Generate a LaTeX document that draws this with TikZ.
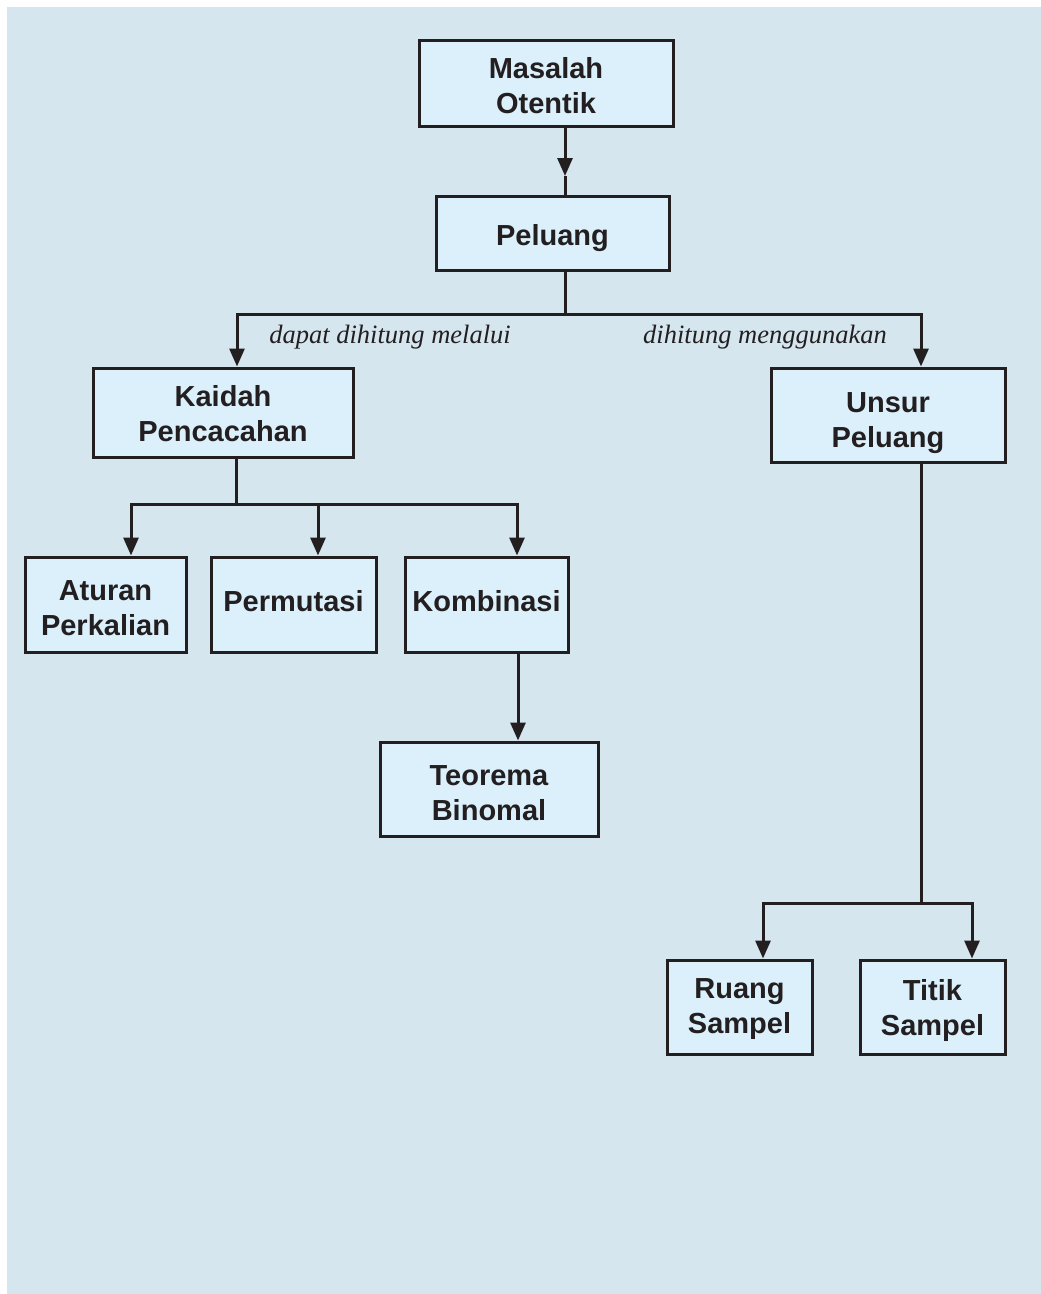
\documentclass[tikz,border=0pt]{standalone}
\usepackage{fontspec}
\setmainfont{Liberation Sans}
\newfontfamily\labfont{Liberation Serif}
\usetikzlibrary{arrows.meta}
\definecolor{bgc}{HTML}{D5E6EF}
\definecolor{boxc}{HTML}{DBF0FB}
\definecolor{linec}{HTML}{231F20}
\newcommand{\bxt}[2]{\raisebox{#1}[\height][\depth]{\begin{tabular}{@{}c@{}}#2\end{tabular}}}
\tikzset{
  box/.style={draw=linec, fill=boxc, line width=3pt, align=center, inner sep=0pt,
    text=linec, font=\fontsize{29}{35}\selectfont\bfseries},
  conn/.style={draw=linec, line width=3pt},
  arr/.style={conn, -{Triangle[width=15pt,length=18pt]}},
  lab/.style={text=linec, font=\labfont\itshape\fontsize{26.5}{30}\selectfont, inner sep=0pt}
}
\begin{document}
\begin{tikzpicture}[x=1pt,y=-1pt]
\useasboundingbox (0,0) rectangle (1041,1294);
\fill[white] (0,0) rectangle (1041,1294);
\fill[bgc] (7,7) rectangle (1041,1294);

\node[box, minimum width=254pt, minimum height=86pt] (ma) at (546,83) {\bxt{-6pt}{Masalah\\Otentik}};
\node[box, minimum width=233pt, minimum height=74pt] (pe) at (552.5,233) {\bxt{-5pt}{Peluang}};
\node[box, minimum width=260pt, minimum height=89pt] (ka) at (223,412.5) {\bxt{-4.5pt}{Kaidah\\Pencacahan}};
\node[box, minimum width=234pt, minimum height=94pt] (un) at (888,415) {\bxt{-7.5pt}{Unsur\\Peluang}};
\node[box, minimum width=161pt, minimum height=95pt] (at) at (105.5,604.5) {\bxt{-6pt}{Aturan\\Perkalian}};
\node[box, minimum width=165pt, minimum height=95pt] (pm) at (293.5,604.5) {\bxt{0pt}{Permutasi}};
\node[box, minimum width=163pt, minimum height=95pt] (ko) at (486.5,604.5) {\bxt{0pt}{Kombinasi}};
\node[box, minimum width=218pt, minimum height=94pt] (te) at (489,789) {\bxt{-6.5pt}{Teorema\\Binomal}};
\node[box, minimum width=145pt, minimum height=94pt] (ru) at (739.5,1007) {\bxt{-1.5pt}{Ruang\\Sampel}};
\node[box, minimum width=145pt, minimum height=94pt] (ti) at (932.5,1007) {\bxt{-4pt}{Titik\\Sampel}};

\node[lab] (l1) at (390,337) {dapat dihitung melalui};
\node[lab] (l2) at (765,337) {dihitung menggunakan};

% x positions
\coordinate (x1) at (565,0);
\coordinate (xk) at (237,0);
\coordinate (xu) at (921,0);
\coordinate (xa) at (131,0);
\coordinate (xp) at (318,0);
\coordinate (xo) at (517,0);
\coordinate (xt) at (518,0);
\coordinate (xr) at (763,0);
\coordinate (xi) at (972,0);
\coordinate (xkd) at (236,0);

% Masalah -> Peluang
\coordinate (m1) at (565,176);
\draw[arr] (ma.south -| x1) -- (m1);
\draw[conn] (m1) -- (pe.north -| x1);

% Peluang -> Kaidah, Unsur
\coordinate (j1) at (565,314);
\draw[conn] (pe.south -| x1) -- (j1);
\draw[arr] (j1) -| (ka.north -| xk);
\draw[arr] (j1) -| (un.north -| xu);

% Kaidah -> three
\coordinate (j2) at (236,504);
\draw[conn] (ka.south -| xkd) -- (j2);
\draw[arr] (j2) -| (at.north -| xa);
\draw[arr] (j2) -| (ko.north -| xo);
\coordinate (j2p) at (318,504);
\draw[arr] (j2p) -- (pm.north -| xp);

% Kombinasi -> Teorema
\draw[arr] (ko.south -| xt) -- (te.north -| xt);

% Unsur -> Ruang, Titik
\coordinate (j3) at (921,903);
\draw[conn] (un.south -| xu) -- (j3);
\draw[arr] (j3) -| (ru.north -| xr);
\draw[arr] (j3) -| (ti.north -| xi);
\end{tikzpicture}
\end{document}
